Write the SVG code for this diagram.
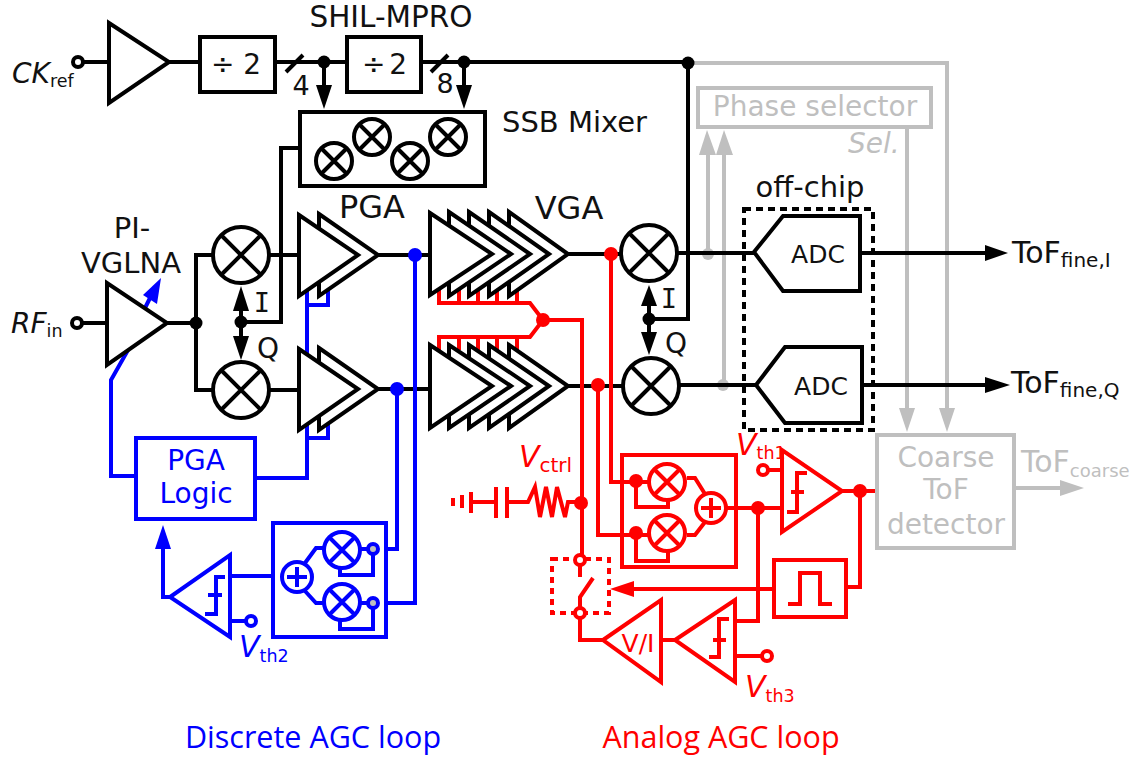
<svg xmlns="http://www.w3.org/2000/svg" width="1142" height="761" viewBox="0 0 1142 761">
<style>
text{font-family:"DejaVu Sans","Liberation Sans",sans-serif;fill:#111}
.k{stroke:#000}.b{stroke:#00f}.r{stroke:#f00}.g{stroke:#bfbfbf}
.k,.b,.r,.g{stroke-width:4;fill:none;stroke-linejoin:miter}
.w{fill:#fff}
.kf{fill:#000;stroke:none}.bf{fill:#00f;stroke:none}.rf{fill:#f00;stroke:none}.gf{fill:#bfbfbf;stroke:none}
text.bt{fill:#00f}text.rt{fill:#f00}text.gt{fill:#bfbfbf}
.sub{font-size:20px}
.sm{font-size:17.500px}
.it{font-style:italic}
.mono{font-family:"DejaVu Sans Mono",monospace}
.os{font-family:"Open Sans",sans-serif}
</style>
<defs>
<g id="mxL"><circle r="28" fill="#fff"/><path d="M-20-20L20 20M-20 20L20-20"/></g>
<g id="mxS"><circle r="18" fill="#fff"/><path d="M-13-13L13 13M-13 13L13-13"/></g>
<g id="pl"><circle r="15" fill="#fff"/><path d="M-10 0H10M0-10V10"/></g>
</defs>

<g id="connectors">
<g class="g">
<path d="M688 63H947V410"/>
<path d="M907 127V410"/>
<path d="M708 254V150M724 385V150"/>
<path d="M1014 488H1062"/>
</g>
<circle class="gf" cx="708" cy="254" r="6"/><circle class="gf" cx="723" cy="385" r="6"/>
<polygon class="gf" points="707,130 699,155 716,155"/><polygon class="gf" points="724,130 716,155 733,155"/>
<polygon class="gf" points="907,432 899,408 915,408"/><polygon class="gf" points="947,432 939,408 955,408"/>
<polygon class="gf" points="1084,488 1060,480 1060,496"/>

<g class="k">
<path d="M82 62H108M169 62H200M275 62H347M421 62H688"/>
<path d="M286 72L303 55M431 72L448 55"/>
<path d="M324 62V88M464 62V88"/>
<path d="M300 148H281V322H241"/>
<path d="M82 323H107M167 323H196M213 255H196V390H213"/>
<path d="M241 305V340"/>
<path d="M269 255H299M269 390H299"/>
<path d="M378 255H430M378 389H430"/>
<path d="M568 254H622M568 386H624"/>
<path d="M688 63V319H649"/>
<path d="M649 305V335"/>
<path d="M677 253H754M679 385H756"/>
<path d="M860 253H987M862 385H987"/>
</g>
<g class="kf">
<circle cx="324" cy="62" r="6.500"/><circle cx="464" cy="62" r="6.500"/><circle cx="688" cy="63" r="6.500"/>
<circle cx="196" cy="323" r="6.500"/><circle cx="241" cy="322" r="6.500"/><circle cx="649" cy="319" r="6.500"/>
<polygon points="324,109 316,85 332,85"/><polygon points="464,109 456,85 472,85"/>
<polygon points="241,286 233,311 249,311"/><polygon points="241,360 233,336 249,336"/>
<polygon points="649,285 641,306 657,306"/><polygon points="649,355 641,332 657,332"/>
<polygon points="1008,253 985,245 985,261"/><polygon points="1010,385 985,377 985,393"/>
</g>

<g class="b">
<path d="M307 285V478H255"/>
<path d="M307 305H328V285"/>
<path d="M307 438H328V420"/>
<path d="M136 476H111V380L128 350"/>
<path d="M143 312L150 298"/>
<path d="M172 597H163V545"/>
<path d="M230 576H273"/>
<path d="M230 621H246"/>
<path d="M378 549H397V389"/>
<path d="M378 603H415V255"/>
</g>
<g class="bf">
<circle cx="415" cy="255" r="7"/><circle cx="397" cy="389" r="7"/>
<polygon points="161,278 143,295 157,304"/>
<polygon points="163,525 155,549 171,549"/>
</g>

<g class="r">
<path d="M611 254V482H636"/>
<path d="M598 385V535H636"/>
<path d="M439 290V303H530L543 320L530 337H439V350"/>
<path d="M459 290V303M478 290V303M497 290V303M517 290V303"/>
<path d="M459 337V350M478 337V350M497 337V350M517 337V350"/>
<path d="M543 320H582V555"/>
<path d="M471 502H495M507 502H528L535 487L540 517L546 487L552 517L557 487L565 517L568 502H581"/>
<path d="M580 566V577M593 578L580 597V607"/>
<path d="M580 619V640H603"/>
<path d="M661 640H675"/>
<path d="M735 621H758V508"/>
<path d="M735 656H762"/>
<path d="M774 589H632"/>
<path d="M846 587H860V491"/>
<path d="M842 491H877"/>
<path d="M726 508H782"/>
<path d="M768 470H782"/>
</g>
<g class="rf">
<circle cx="611" cy="254" r="7"/><circle cx="598" cy="385" r="7"/>
<circle cx="543" cy="320" r="7"/><circle cx="581" cy="503" r="7"/>
<circle cx="758" cy="508" r="7"/><circle cx="860" cy="491" r="7"/>
<polygon points="610,589 634,581 634,597"/>
</g>
</g>

<g id="ck-in"><circle class="k w" cx="78" cy="62" r="5"/>
<text x="12" y="83" font-size="28" class="it">CK<tspan class="sm" font-style="normal" dy="4">ref</tspan></text></g>
<g id="ck-buf"><polygon class="k w" points="109,23 109,103 169,62"/></g>
<g id="div1"><rect class="k w" x="200" y="37" width="75" height="55"/><text x="236" y="74" font-size="28" text-anchor="middle">÷ 2</text></g>
<g id="div2"><rect class="k w" x="347" y="37" width="74" height="55"/><text x="384.500" y="74" font-size="28" text-anchor="middle" word-spacing="-5">÷ 2</text>
<text x="391" y="27" font-size="29.500" text-anchor="middle">SHIL-MPRO</text></g>
<text x="301" y="95" font-size="27" text-anchor="middle">4</text>
<text x="445" y="93" font-size="27" text-anchor="middle">8</text>

<g id="ssb" class="k"><rect class="k w" x="300" y="112" width="185" height="74"/>
<use href="#mxS" x="334" y="161"/><use href="#mxS" x="372" y="137"/><use href="#mxS" x="410" y="161"/><use href="#mxS" x="448" y="137"/></g>
<text x="502" y="132" font-size="29">SSB Mixer</text>

<g id="rf-in"><circle class="k w" cx="77" cy="323" r="5"/>
<text x="11" y="333" font-size="28" class="it">RF<tspan class="sm" font-style="normal" dy="4">in</tspan></text></g>
<g id="lna"><polygon class="k w" points="107,283 107,365 167,323"/>
<text x="132" y="238" font-size="29" text-anchor="middle">PI-</text><text x="131" y="273" font-size="29" text-anchor="middle">VGLNA</text></g>
<g id="mix-i1" class="k"><use href="#mxL" x="241" y="255"/></g>
<g id="mix-q1" class="k"><use href="#mxL" x="241" y="390"/></g>
<text x="262" y="312" font-size="27" text-anchor="middle" class="mono">I</text>
<text x="257" y="358" font-size="28">Q</text>

<g id="pga-i" class="k"><polygon class="k w" points="319,214 378,255 319,296"/><polygon class="k w" points="299,215 358,255 299,296"/></g>
<g id="pga-q" class="k"><polygon class="k w" points="319,348 378,389 319,430"/><polygon class="k w" points="299,349 358,389 299,430"/></g>
<text x="372" y="218" font-size="32" text-anchor="middle">PGA</text>

<g id="vga-i"><polygon class="k w" points="509,212 568,254 509,296"/><polygon class="k w" points="489,212 549,254 489,296"/><polygon class="k w" points="469,212 530,254 469,296"/><polygon class="k w" points="449,212 511,254 449,296"/><polygon class="k w" points="430,213 492,254 430,295"/></g>
<g id="vga-q"><polygon class="k w" points="509,345 568,386 509,428"/><polygon class="k w" points="489,345 549,386 489,428"/><polygon class="k w" points="469,345 530,386 469,428"/><polygon class="k w" points="449,345 511,386 449,428"/><polygon class="k w" points="430,345 492,386 430,428"/></g>
<text x="569" y="219" font-size="32" text-anchor="middle">VGA</text>

<g id="mix-i2" class="k"><use href="#mxL" x="649" y="253"/></g>
<g id="mix-q2" class="k"><use href="#mxL" x="651" y="386"/></g>
<text x="669" y="308" font-size="27" text-anchor="middle" class="mono">I</text>
<text x="665" y="353" font-size="28">Q</text>

<g id="phase-selector"><rect class="g" x="698" y="88" width="233" height="39"/><text class="gt" x="815" y="116" font-size="28" text-anchor="middle">Phase selector</text>
<text class="gt it" x="848" y="153" font-size="28">Sel.</text></g>

<g id="off-chip"><rect x="744" y="209" width="129" height="221" fill="none" stroke="#000" stroke-width="4" stroke-dasharray="7 5"/>
<text x="810" y="197" font-size="29" text-anchor="middle">off-chip</text></g>
<g id="adc-i"><polygon class="k w" points="754,252 783,216 860,216 860,291 783,291"/><text x="818" y="263" font-size="25" text-anchor="middle">ADC</text></g>
<g id="adc-q"><polygon class="k w" points="756,385 785,347 862,347 862,423 785,423"/><text x="821" y="395" font-size="25" text-anchor="middle">ADC</text></g>
<text x="1012" y="263" font-size="30">ToF<tspan class="sub" dy="4">fine,I</tspan></text>
<text x="1011" y="393" font-size="30">ToF<tspan class="sub" dy="4" font-size="19">fine,Q</tspan></text>

<g id="coarse"><rect class="g" x="877" y="435" width="137" height="113"/>
<text class="gt" x="946" y="467" font-size="28" text-anchor="middle">Coarse</text>
<text class="gt" x="946" y="499" font-size="28" text-anchor="middle">ToF</text>
<text class="gt" x="946" y="534" font-size="28" text-anchor="middle">detector</text></g>
<text class="gt" x="1021" y="472" font-size="30">ToF<tspan style="font-size:18px" dy="5">coarse</tspan></text>

<g id="pga-logic"><rect class="b w" x="136" y="438" width="119" height="81"/>
<text class="bt" x="196" y="470" font-size="28" text-anchor="middle">PGA</text><text class="bt" x="196" y="503" font-size="28" text-anchor="middle">Logic</text></g>
<g id="cmp2" class="b"><polygon class="b w" points="230,555 230,637 170,597"/><path d="M205 614H216V577H225M208 595H222"/><circle class="b w" cx="251" cy="621" r="5"/></g>
<text class="bt" x="239" y="657" font-size="30"><tspan class="it">V</tspan><tspan class="sm" dy="5">th2</tspan></text>
<g id="det2" class="b"><rect class="b w" x="273" y="523" width="113" height="114"/>
<path d="M305 563L316 548H326M305 591L316 603H326M358 549H368M358 603H368M373 554V575H340V568M373 608V629H340V620"/>
<use href="#pl" x="297" y="577"/><use href="#mxS" x="342" y="550"/><use href="#mxS" x="342" y="602"/>
<circle cx="373" cy="549" r="5" fill="#bfbfbf"/><circle cx="373" cy="603" r="5" fill="#bfbfbf"/></g>

<g id="vctrl" class="r"><path d="M453 498V506"/><path d="M462 495V508"/><path d="M471 492V513"/><path d="M496 487V518M507 487V518"/>
<text class="rt" x="519" y="467" font-size="30" stroke="none"><tspan class="it">V</tspan><tspan class="sub" dy="5">ctrl</tspan></text></g>
<g id="switch" class="r"><rect x="552" y="559" width="57" height="54" stroke-dasharray="6 5"/><circle class="r w" cx="580" cy="560" r="5"/><circle class="r w" cx="580" cy="613" r="5"/></g>
<g id="vi"><polygon class="r w" points="603,640 661,600 661,682"/><text class="rt" x="638" y="652" font-size="25" text-anchor="middle">V/I</text></g>
<g id="cmp3" class="r"><polygon class="r w" points="675,640 735,600 735,682"/><path d="M709 657H719V619H729M713 640H726"/><circle class="r w" cx="767" cy="656" r="5"/></g>
<text class="rt" x="745" y="697" font-size="30"><tspan class="it">V</tspan><tspan class="sm" dy="5">th3</tspan></text>
<g id="det1" class="r"><rect class="r w" x="622" y="455" width="114" height="112"/>
<path d="M611 482H668M598 535H668M636 482V507H668V498M636 534V561H668V550M687 478H695L705 494M687 535H695L705 522M726 508H736"/>
<use href="#mxS" x="667" y="482"/><use href="#mxS" x="667" y="533"/><use href="#pl" x="711" y="508"/></g>
<g class="rf"><circle cx="636" cy="481" r="7"/><circle cx="636" cy="533" r="7"/></g>
<g id="cmp1" class="r"><polygon class="r w" points="782,450 782,532 842,491"/><path d="M787 512H797V473H807M791 492H804"/><circle class="r w" cx="763" cy="470" r="5"/></g>
<text class="rt" x="736" y="455" font-size="30"><tspan class="it">V</tspan><tspan class="sm" dy="4">th1</tspan></text>
<g id="pulse" class="r"><rect class="r w" x="774" y="560" width="72" height="57"/><path d="M788 604H800V573H820V604H832"/></g>

<text class="bt os" x="313" y="748" font-size="30.500" text-anchor="middle">Discrete AGC loop</text>
<text class="rt os" x="721" y="748" font-size="30.500" text-anchor="middle">Analog AGC loop</text>
</svg>
